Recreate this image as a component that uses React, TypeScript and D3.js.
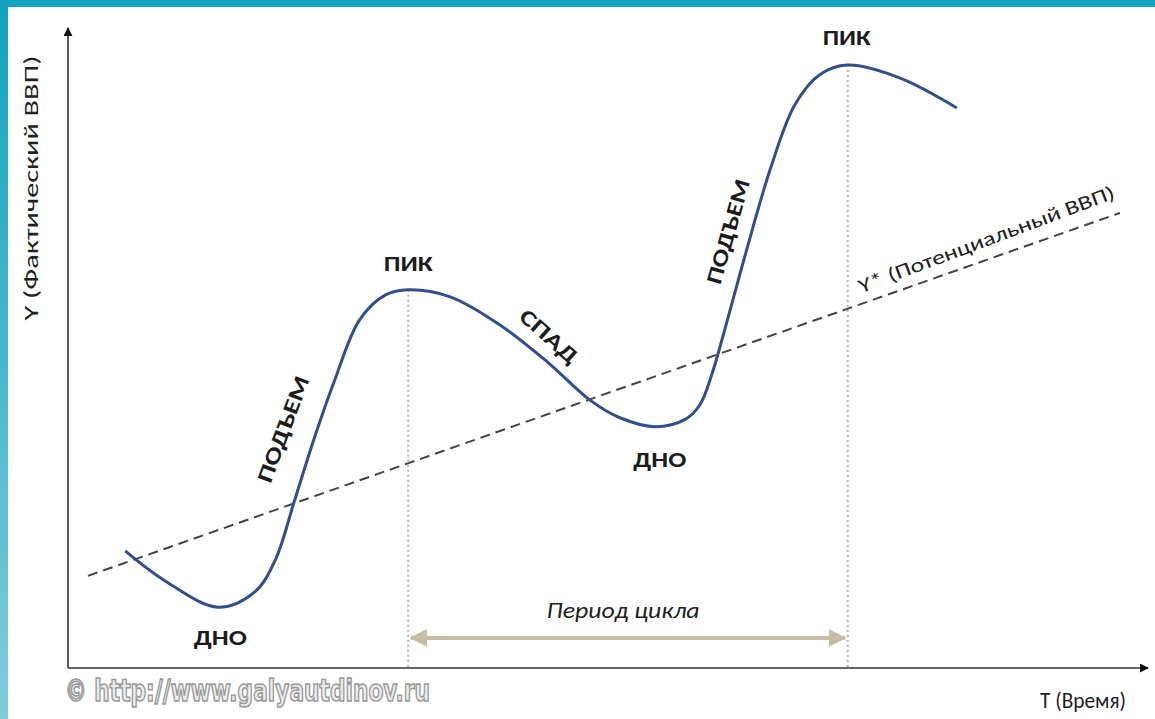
import * as d3 from "d3";

// фактический ВВП: время (0..100) и уровень (0..100)
const gdpTime = [5.3, 9.0, 13.9, 17.3, 19.2, 21.0, 22.9, 24.7, 27.0, 29.4, 31.5, 35.4, 40.0, 44.4, 48.3, 51.1, 54.4, 57.1, 58.5, 59.6, 60.8, 62.7, 65.0, 67.3, 69.6, 72.2, 77.0, 82.3];
const gdpValue = [18.3, 13.6, 9.5, 11.9, 16.9, 26.3, 36.4, 45.0, 54.4, 58.3, 59.1, 58.0, 53.6, 47.8, 41.9, 39.1, 37.7, 38.8, 41.1, 45.8, 52.8, 64.5, 77.8, 88.0, 92.7, 94.2, 92.2, 87.5];

// потенциальный ВВП (тренд)
const trendTime = [1.85, 97.4];
const trendValue = [14.4, 71.1];

// пики, между которыми измеряется период
const peakTime = [31.5, 72.2];
const peakValue = [59.1, 94.2];

// подписи фаз
const phaseLabels = ["ДНО", "ПОДЪЕМ", "ПИК", "СПАД", "ДНО", "ПОДЪЕМ", "ПИК"];
const phaseTime = [14.1, 20.1, 31.5, 44.4, 54.8, 61.3, 72.1];
const phaseValue = [4.4, 37.2, 62.8, 51.6, 32.2, 68.1, 98.1];
const phaseAngle = [0, -69.5, 0, 41.6, 0, -74, 0];
const phaseWidth = [53, 112, 49, 70, 53, 108, 48];

const trendLabel = "Y* (Потенциальный ВВП)";
const periodLabel = "Период цикла";
const yAxisLabel = "Y (Фактический ВВП)";
const xAxisLabel = "T (Время)";
const watermark = "© http://www.galyautdinov.ru";

const W = 1155;
const H = 719;
const x0 = 68;
const y0 = 668;

export default function App() {
  const x = d3.scaleLinear().domain([0, 100]).range([x0, 1148]);
  const y = d3.scaleLinear().domain([0, 100]).range([y0, 28]);

  const gdp = gdpTime.map((t, i) => [t, gdpValue[i]] as [number, number]);
  const line = d3
    .line<[number, number]>()
    .x((d) => x(d[0]))
    .y((d) => y(d[1]))
    .curve(d3.curveCatmullRom.alpha(0.5));

  const font = "Calibri, 'Open Sans', sans-serif";
  const periodY = y(4.7);

  return (
    <svg
      width={W}
      height={H}
      style={{ position: "absolute", left: 0, top: 0, background: "#fff" }}
    >
      <defs>
        <linearGradient id="side" x1="0" y1="0" x2="0" y2="1">
          <stop offset="0" stopColor="#12a2bf" />
          <stop offset="1" stopColor="#82ccdb" />
        </linearGradient>
        <marker id="axisHead" viewBox="0 0 10 10" refX="9" refY="5" markerWidth="9" markerHeight="9" markerUnits="userSpaceOnUse" orient="auto">
          <path d="M0,0 L10,5 L0,10 z" fill="#111" />
        </marker>
        <marker id="periodHead" viewBox="0 0 10 10" refX="9" refY="5" markerWidth="4.5" markerHeight="4.5" orient="auto-start-reverse">
          <path d="M0,0 L10,5 L0,10 z" fill="#c4bea3" />
        </marker>
      </defs>

      {/* рамка */}
      <rect x={0} y={0} width={W} height={7} fill="#12a3c0" />
      <rect x={0} y={0} width={8} height={H} fill="url(#side)" />

      {/* пунктир от пиков */}
      {peakTime.map((t, i) => (
        <line
          key={i}
          x1={x(t)}
          x2={x(t)}
          y1={y(peakValue[i])}
          y2={y0}
          stroke="#b5b5b5"
          strokeWidth={2}
          strokeDasharray="2,3"
        />
      ))}

      {/* оси */}
      <line x1={x0} y1={y0} x2={x0} y2={28} stroke="#333" strokeWidth={1.6} markerEnd="url(#axisHead)" />
      <line x1={x0} y1={y0} x2={1148} y2={y0} stroke="#333" strokeWidth={1.6} markerEnd="url(#axisHead)" />

      {/* тренд */}
      <line
        x1={x(trendTime[0])}
        y1={y(trendValue[0])}
        x2={x(trendTime[1])}
        y2={y(trendValue[1])}
        stroke="#444"
        strokeWidth={2}
        strokeDasharray="10,6"
      />

      {/* фактический ВВП */}
      <path d={line(gdp) ?? ""} fill="none" stroke="#304f8c" strokeWidth={3} />

      {/* период цикла */}
      <line
        x1={x(peakTime[0]) + 3}
        x2={x(peakTime[1]) - 3}
        y1={periodY}
        y2={periodY}
        stroke="#c4bea3"
        strokeWidth={4}
        markerStart="url(#periodHead)"
        markerEnd="url(#periodHead)"
      />
      <text
        x={x(51.4)}
        y={y(8.75)}
        textAnchor="middle"
        dominantBaseline="middle"
        textLength={153}
        lengthAdjust="spacingAndGlyphs"
        fontFamily={font}
        fontStyle="italic"
        fontSize={23}
        fill="#222"
      >
        {periodLabel}
      </text>

      {phaseLabels.map((s, i) => {
        const px = x(phaseTime[i]);
        const py = y(phaseValue[i]);
        return (
          <text
            key={i}
            transform={`translate(${px},${py}) rotate(${phaseAngle[i]})`}
            textAnchor="middle"
            dominantBaseline="middle"
            textLength={phaseWidth[i]}
            lengthAdjust="spacingAndGlyphs"
            fontFamily={font}
            fontWeight="bold"
            fontSize={22}
            fill="#1c1c1c"
          >
            {s}
          </text>
        );
      })}

      <text
        transform={`translate(${x(85.1)},${y(66.7)}) rotate(-20.5)`}
        textAnchor="middle"
        dominantBaseline="middle"
        textLength={272}
        lengthAdjust="spacingAndGlyphs"
        fontFamily={font}
        fontSize={20}
        fill="#222"
      >
        {trendLabel}
      </text>

      <text
        transform="translate(33,188) rotate(-90)"
        textAnchor="middle"
        dominantBaseline="middle"
        textLength={265}
        lengthAdjust="spacingAndGlyphs"
        fontFamily={font}
        fontSize={21}
        fill="#222"
      >
        {yAxisLabel}
      </text>
      <text
        x={1083}
        y={703}
        textAnchor="middle"
        dominantBaseline="middle"
        textLength={86}
        lengthAdjust="spacingAndGlyphs"
        fontFamily={font}
        fontSize={22}
        fill="#222"
      >
        {xAxisLabel}
      </text>

      <text
        x={65}
        y={701}
        textLength={365}
        lengthAdjust="spacingAndGlyphs"
        fontFamily="'DejaVu Sans Condensed', 'DejaVu Sans', sans-serif"
        fontWeight="bold"
        fontSize={30}
        fill="#ececec"
        stroke="#9a9a9a"
        strokeWidth={1.6}
      >
        {watermark}
      </text>
    </svg>
  );
}
